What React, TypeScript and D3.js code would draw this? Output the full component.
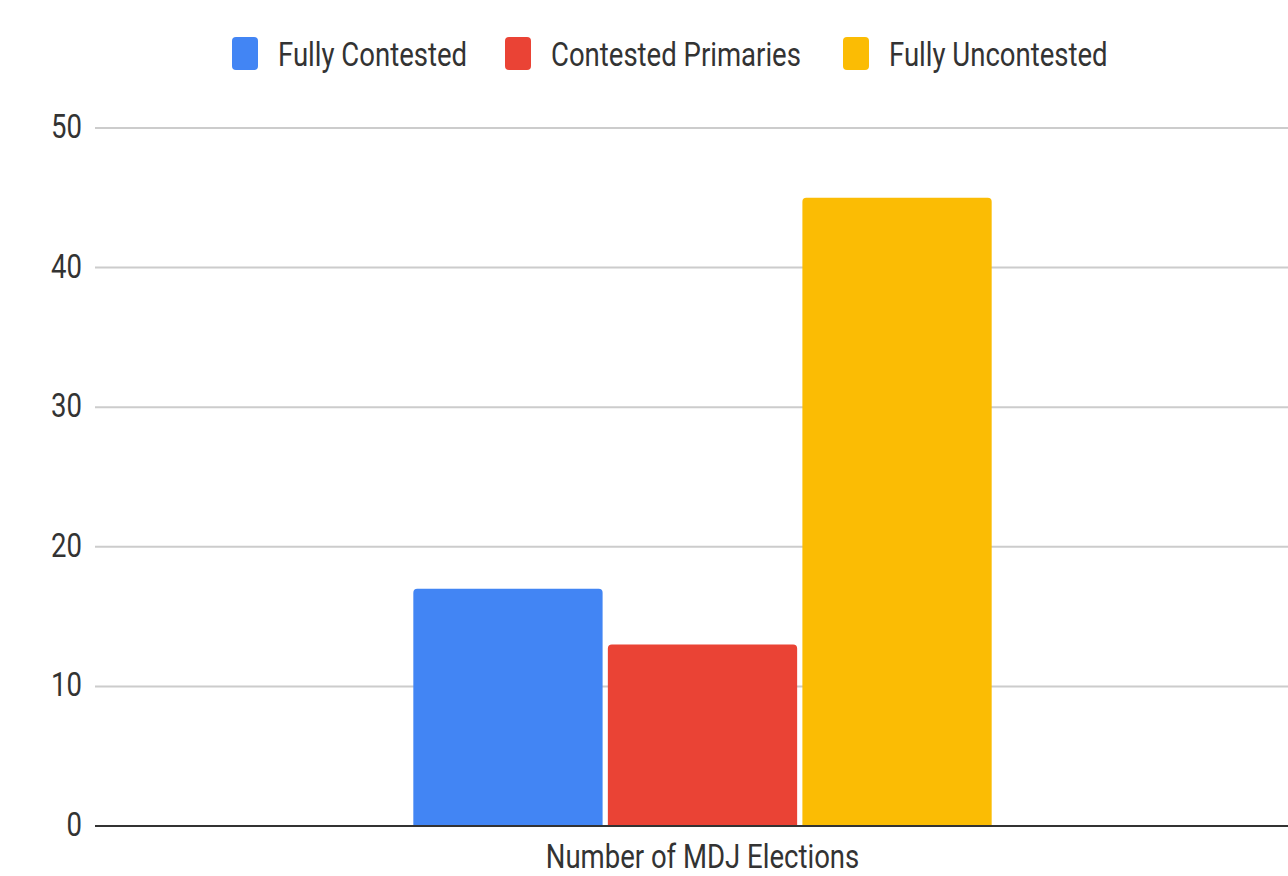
import React from "react";
import * as d3 from "d3";

const categories = ["Number of MDJ Elections"];
const seriesNames = ["Fully Contested", "Contested Primaries", "Fully Uncontested"];
const seriesColors = ["#4285F4", "#EA4335", "#FBBC04"];
const seriesValues = [17, 13, 45];
const yTicks = [0, 10, 20, 30, 40, 50];

const W = 1288;
const H = 876;
const SX = 0.81;
const FS = 34;

function roundedTop(x: number, y: number, w: number, h: number, r: number) {
  const rr = Math.min(r, h, w / 2);
  return `M${x},${y + h}V${y + rr}Q${x},${y} ${x + rr},${y}H${x + w - rr}Q${x + w},${y} ${x + w},${y + rr}V${y + h}Z`;
}

function T({ x, y, anchor, children }: { x: number; y: number; anchor: string; children: React.ReactNode }) {
  return (
    <text
      transform={`translate(${x},${y}) scale(${SX},1)`}
      textAnchor={anchor as any}
      fontFamily="Roboto, sans-serif"
      fontSize={FS}
      fill="#333"
    >
      {children}
    </text>
  );
}

export default function App() {
  const y = d3.scaleLinear().domain([0, 50]).range([826, 128]);
  const x0 = d3.scaleBand().domain(categories).range([95, 1310]).padding(0.355);
  const x1 = d3.scaleBand().domain(seriesNames).range([0, x0.bandwidth()]).paddingInner(0.027);

  const legendX = [232, 505, 843];

  return (
    <svg width={W} height={H} style={{ position: "absolute", left: 0, top: 0, background: "#fff" }}>
      {yTicks.map((t) => (
        <g key={t}>
          {t !== 0 && <line x1={95} x2={W} y1={y(t)} y2={y(t)} stroke="#cccccc" strokeWidth={2} />}
          <T x={82} y={y(t) + 10} anchor="end">{t}</T>
        </g>
      ))}
      {categories.map((c) => (
        <g key={c}>
          {seriesNames.map((s, i) => {
            const bx = (x0(c) as number) + (x1(s) as number);
            const by = y(seriesValues[i]);
            return <path key={s} d={roundedTop(bx, by, x1.bandwidth(), y(0) - by, 4)} fill={seriesColors[i]} />;
          })}
          <T x={(x0(c) as number) + x0.bandwidth() / 2} y={868} anchor="middle">{c}</T>
        </g>
      ))}
      <line x1={95} x2={W} y1={y(0)} y2={y(0)} stroke="#333" strokeWidth={2} />
      {seriesNames.map((s, i) => (
        <g key={s}>
          <rect x={legendX[i]} y={37} width={26} height={33} rx={4} fill={seriesColors[i]} />
          <T x={legendX[i] + 46} y={66} anchor="start">{s}</T>
        </g>
      ))}
    </svg>
  );
}
